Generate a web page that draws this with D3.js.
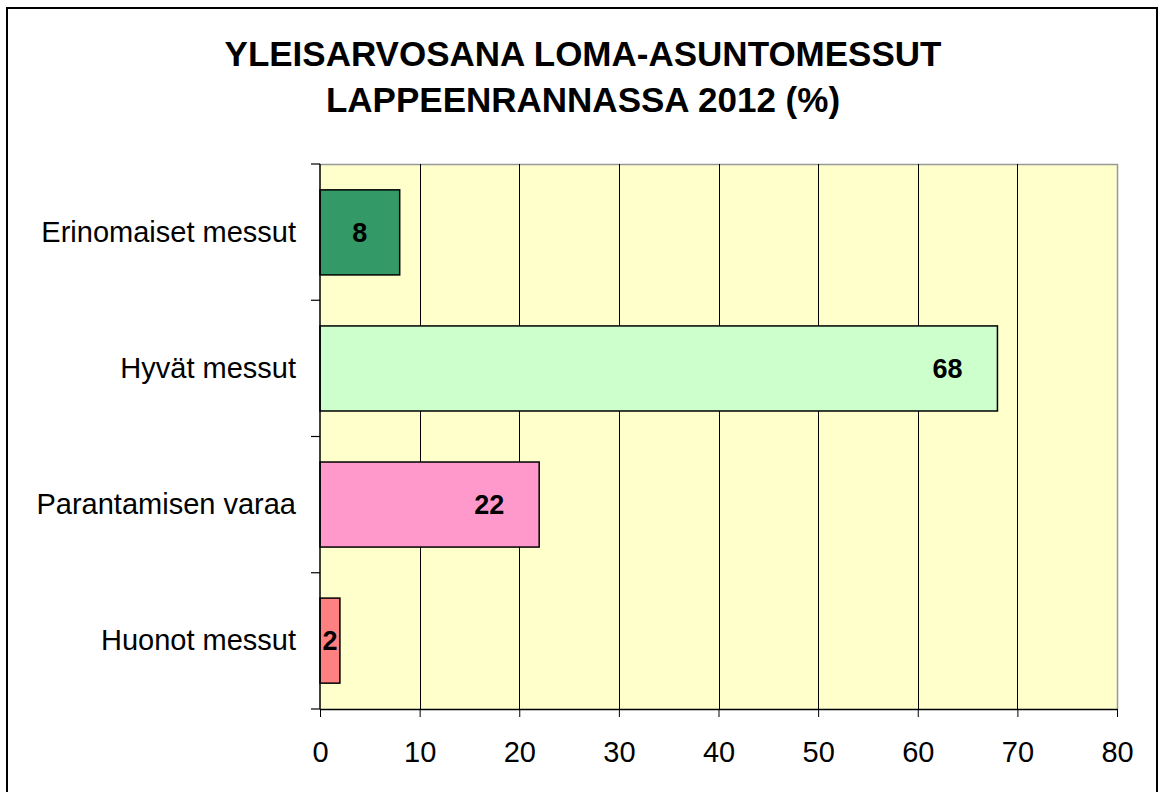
<!DOCTYPE html>
<html>
<head>
<meta charset="utf-8">
<script src="https://cdn.jsdelivr.net/npm/d3@7"></script>
<style>
  body { margin: 0; background: #fff; }
  svg { font-family: "Liberation Sans", Arial, sans-serif; }
</style>
</head>
<body>
<div id="chart"></div>
<script>
// Chart data
const categories = ['Erinomaiset messut', 'Hyvät messut', 'Parantamisen varaa', 'Huonot messut'];
const values = [8, 68, 22, 2];
const barColors = ['#339966', '#CCFFCC', '#FF99CC', '#FF8080'];
const xTicks = [0, 10, 20, 30, 40, 50, 60, 70, 80];
const titleLines = ['YLEISARVOSANA LOMA-ASUNTOMESSUT', 'LAPPEENRANNASSA 2012 (%)'];

const width = 1159, height = 792;
const margin = { left: 320, right: 42, top: 164, bottom: 83 };

const svg = d3.select('#chart')
  .append('svg')
  .attr('width', width)
  .attr('height', height);

// Outer frame
svg.append('rect')
  .attr('x', 7)
  .attr('y', 8)
  .attr('width', 1150)
  .attr('height', 800)
  .attr('fill', '#fff')
  .attr('stroke', '#000')
  .attr('stroke-width', 2);

// Scales
const xScale = d3.scaleLinear()
  .domain([0, 80])
  .range([margin.left, width - margin.right]);

const yScale = d3.scaleBand()
  .domain(categories)
  .range([margin.top, height - margin.bottom])
  .paddingInner(0.375)
  .paddingOuter(0.19);

const plotTop = margin.top, plotBottom = height - margin.bottom;

// Plot background
svg.append('rect')
  .attr('x', xScale(0))
  .attr('y', plotTop)
  .attr('width', xScale(80) - xScale(0))
  .attr('height', plotBottom - plotTop)
  .attr('fill', '#FFFFCC');

// Gray plot border (top and right)
svg.append('path')
  .attr('d', `M${xScale(0)},${plotTop + 0.5}H${xScale(80) + 0.5}V${plotBottom}`)
  .attr('fill', 'none')
  .attr('stroke', '#999')
  .attr('stroke-width', 1.5);

// Vertical grid lines
svg.selectAll('line.grid')
  .data(xTicks.slice(1, -1))
  .enter()
  .append('line')
  .attr('class', 'grid')
  .attr('x1', d => Math.round(xScale(d)) + 0.5)
  .attr('x2', d => Math.round(xScale(d)) + 0.5)
  .attr('y1', plotTop)
  .attr('y2', plotBottom)
  .attr('stroke', '#000')
  .attr('stroke-width', 1);

// Bars
svg.selectAll('rect.bar')
  .data(values)
  .enter()
  .append('rect')
  .attr('class', 'bar')
  .attr('x', xScale(0))
  .attr('y', (d, i) => yScale(categories[i]))
  .attr('width', d => xScale(d) - xScale(0))
  .attr('height', yScale.bandwidth())
  .attr('fill', (d, i) => barColors[i])
  .attr('stroke', '#000')
  .attr('stroke-width', 1.5);

// Value labels
svg.selectAll('text.value')
  .data(values)
  .enter()
  .append('text')
  .attr('class', 'value')
  .attr('x', d => xScale(d) - Math.min(50, (xScale(d) - xScale(0)) / 2))
  .attr('y', (d, i) => yScale(categories[i]) + yScale.bandwidth() / 2)
  .attr('dy', '0.35em')
  .attr('text-anchor', 'middle')
  .style('font-size', '27px')
  .style('font-weight', 'bold')
  .text(d => d);

// X axis
const xAxis = svg.append('g')
  .attr('transform', `translate(0,${plotBottom})`)
  .call(d3.axisBottom(xScale).tickValues(xTicks).tickSize(8).tickSizeOuter(0).tickPadding(24));
xAxis.select('.domain').attr('stroke', '#000').attr('stroke-width', 1.5);
xAxis.selectAll('.tick line').attr('stroke', '#000');
xAxis.selectAll('text')
  .style('font-size', '29px')
  .style('font-family', '"Liberation Sans", Arial, sans-serif')
  .attr('fill', '#000');

// Y axis: ticks at band boundaries
const yBounds = [0, 1, 2, 3, 4].map(i => plotTop + i * (plotBottom - plotTop) / 4);
svg.append('line')
  .attr('x1', xScale(0))
  .attr('x2', xScale(0))
  .attr('y1', plotTop)
  .attr('y2', plotBottom)
  .attr('stroke', '#000')
  .attr('stroke-width', 1.5);
svg.selectAll('line.ytick')
  .data(yBounds)
  .enter()
  .append('line')
  .attr('class', 'ytick')
  .attr('x1', xScale(0) - 9)
  .attr('x2', xScale(0))
  .attr('y1', d => d)
  .attr('y2', d => d)
  .attr('stroke', '#000')
  .attr('stroke-width', 1.2);

// Category labels
svg.selectAll('text.cat')
  .data(categories)
  .enter()
  .append('text')
  .attr('class', 'cat')
  .attr('x', xScale(0) - 24)
  .attr('y', d => yScale(d) + yScale.bandwidth() / 2)
  .attr('dy', '0.33em')
  .attr('text-anchor', 'end')
  .style('font-size', '29px')
  .text(d => d);

// Title
svg.selectAll('text.title')
  .data(titleLines)
  .enter()
  .append('text')
  .attr('class', 'title')
  .attr('x', 583)
  .attr('y', (d, i) => 66 + i * 46)
  .attr('text-anchor', 'middle')
  .style('font-size', '35px')
  .style('font-weight', 'bold')
  .text(d => d);
</script>
</body>
</html>
